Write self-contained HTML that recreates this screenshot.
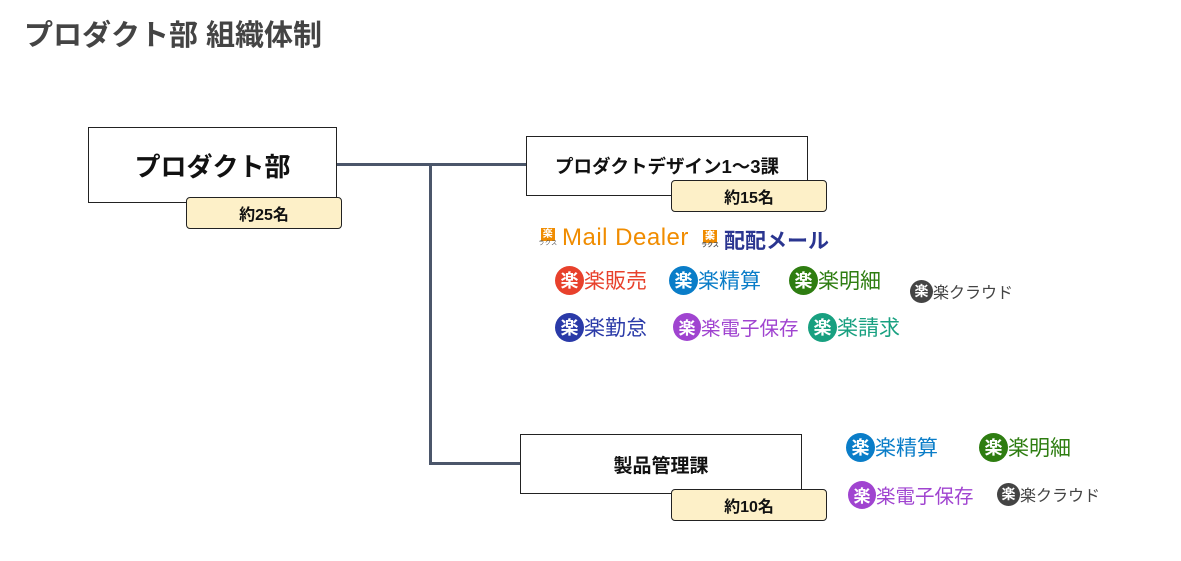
<!DOCTYPE html>
<html><head><meta charset="utf-8"><style>
body{margin:0;width:1181px;height:561px;background:#fff;position:relative;overflow:hidden;font-family:"Liberation Sans","Noto Sans CJK JP",sans-serif}
.a{position:absolute;white-space:nowrap}
.box{position:absolute;border:1.5px solid #222;background:#fff;box-sizing:border-box;display:flex;align-items:center;justify-content:center;font-weight:bold;color:#111}
.badge{position:absolute;border:1.5px solid #222;background:#fdf0c8;border-radius:4px;box-sizing:border-box;display:flex;align-items:center;justify-content:center;font-weight:bold;font-size:16px;color:#111}
.logo{position:absolute;display:flex;align-items:center;white-space:nowrap;font-size:21px}
.c{display:inline-flex;align-items:center;justify-content:center;border-radius:50%;color:#fff;font-weight:bold}
.ln{position:absolute;background:#4b566a}
.ic{display:inline-flex;flex-direction:column;align-items:center;width:16px;margin-right:6px;font-size:6px;color:#555;line-height:7px}
.ic b{display:block;width:14px;height:13px;background:#f08c00;color:#fff;font-size:10px;line-height:13px;text-align:center}
</style></head><body>
<div class="a" style="left:24px;top:12px;font-size:29px;font-weight:bold;color:#444">プロダクト部 組織体制</div>

<div class="ln" style="left:337px;top:163px;width:189px;height:3px"></div>
<div class="ln" style="left:429px;top:163px;width:3px;height:302px"></div>
<div class="ln" style="left:429px;top:462px;width:91px;height:3px"></div>

<div class="box" style="left:88px;top:127px;width:249px;height:76px;font-size:26px">プロダクト部</div>
<div class="badge" style="left:186px;top:197px;width:156px;height:32px">約25名</div>

<div class="box" style="left:526px;top:136px;width:282px;height:60px;font-size:18.5px">プロダクトデザイン1～3課</div>
<div class="badge" style="left:671px;top:180px;width:156px;height:32px">約15名</div>

<div class="box" style="left:520px;top:434px;width:282px;height:60px;font-size:19px">製品管理課</div>
<div class="badge" style="left:671px;top:489px;width:156px;height:32px">約10名</div>

<div class="logo" style="left:540px;top:224px;color:#f08c00;font-size:24px;letter-spacing:0.5px"><span class="ic"><b>楽</b>ラクス</span>Mail Dealer</div>
<div class="logo" style="left:702px;top:225px;color:#2a3590;font-size:21px;font-weight:bold"><span class="ic"><b>楽</b>ラクス</span>配配メール</div>

<div class="logo" style="left:555px;top:265px;color:#e8412c"><span class="c" style="width:29px;height:29px;background:#e8412c;font-size:18px">楽</span>楽販売</div>
<div class="logo" style="left:669px;top:265px;color:#0a7dc8"><span class="c" style="width:29px;height:29px;background:#0a7dc8;font-size:18px">楽</span>楽精算</div>
<div class="logo" style="left:789px;top:265px;color:#2e7d11"><span class="c" style="width:29px;height:29px;background:#2e7d11;font-size:18px">楽</span>楽明細</div>
<div class="logo" style="left:910px;top:279px;color:#444;font-size:16px"><span class="c" style="width:23px;height:23px;background:#444;font-size:14px">楽</span>楽クラウド</div>

<div class="logo" style="left:555px;top:312px;color:#2a3aa8"><span class="c" style="width:29px;height:29px;background:#2a3aa8;font-size:18px">楽</span>楽勤怠</div>
<div class="logo" style="left:673px;top:312px;color:#a044d0;font-size:19.5px"><span class="c" style="width:28px;height:28px;background:#a044d0;font-size:17px">楽</span>楽電子保存</div>
<div class="logo" style="left:808px;top:312px;color:#18a080"><span class="c" style="width:29px;height:29px;background:#18a080;font-size:18px">楽</span>楽請求</div>

<div class="logo" style="left:846px;top:432px;color:#0a7dc8"><span class="c" style="width:29px;height:29px;background:#0a7dc8;font-size:18px">楽</span>楽精算</div>
<div class="logo" style="left:979px;top:432px;color:#2e7d11"><span class="c" style="width:29px;height:29px;background:#2e7d11;font-size:18px">楽</span>楽明細</div>
<div class="logo" style="left:848px;top:480px;color:#a044d0;font-size:19.5px"><span class="c" style="width:28px;height:28px;background:#a044d0;font-size:17px">楽</span>楽電子保存</div>
<div class="logo" style="left:997px;top:482px;color:#444;font-size:16px"><span class="c" style="width:23px;height:23px;background:#444;font-size:14px">楽</span>楽クラウド</div>
</body></html>
